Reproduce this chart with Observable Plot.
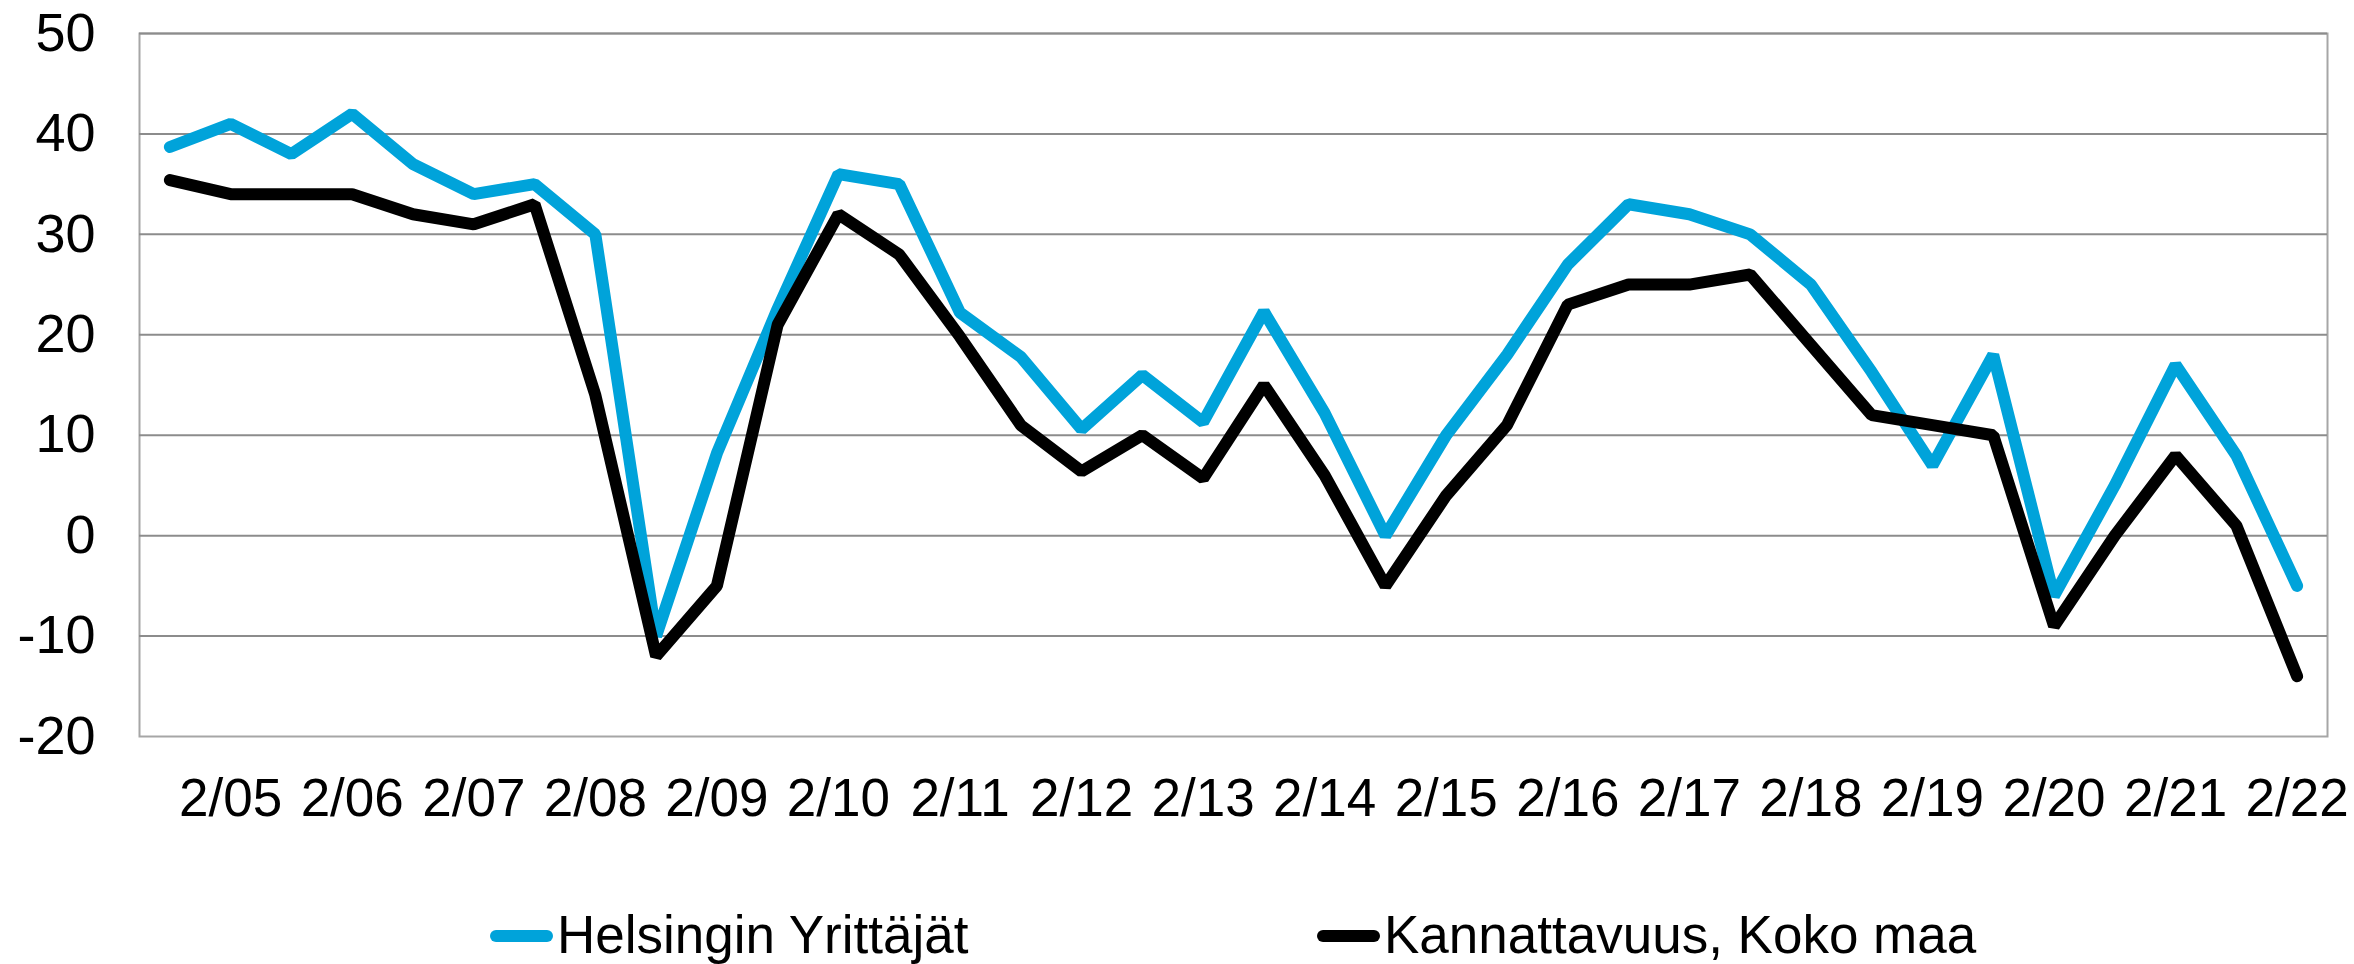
<!DOCTYPE html>
<html>
<head>
<meta charset="utf-8">
<script src="https://cdn.jsdelivr.net/npm/d3@7"></script>
<script src="https://cdn.jsdelivr.net/npm/@observablehq/plot@0.6"></script>
<style>
  html, body { margin: 0; padding: 0; background: #fff; }
  #wrap { position: relative; width: 2354px; height: 964px; font-family: "Liberation Sans", Arial, sans-serif; color: #000; }
  #legend { position: relative; height: 84px; font-size: 53px; }
  .item { position: absolute; top: 25px; line-height: 60px; white-space: nowrap; }
  .sw { position: absolute; top: 50px; height: 12px; border-radius: 6px; }
</style>
</head>
<body>
<div id="wrap">
  <div id="chart"></div>
  <div id="legend"></div>
</div>
<script>
const periods = ["8/04","2/05","8/05","2/06","8/06","2/07","8/07","2/08","8/08","2/09","8/09","2/10","8/10","2/11","8/11","2/12","8/12","2/13","8/13","2/14","8/14","2/15","8/15","2/16","8/16","2/17","8/17","2/18","8/18","2/19","8/19","2/20","8/20","2/21","8/21","2/22"];
const tickLabels = ["2/05","2/06","2/07","2/08","2/09","2/10","2/11","2/12","2/13","2/14","2/15","2/16","2/17","2/18","2/19","2/20","2/21","2/22"];
const yTicks = [-20, -10, 0, 10, 20, 30, 40, 50];
const seriesNames = ["Helsingin Yrittäjät", "Kannattavuus, Koko maa"];
const seriesColors = ["#00A3DA", "#000000"];
const helsinki = [38.7, 41, 38, 42, 37, 34, 35, 30, -10, 8.2, 22.6, 36, 35, 22.2, 17.8, 10.6, 16, 11.3, 22.3, 12.2, 0, 10, 18, 27, 33, 32, 30, 25, 16.3, 7, 18, -6, 5, 17, 8, -5];
const kokoMaa = [35.4, 34, 34, 34, 32, 31, 33, 14, -12, -5, 21, 32, 28, 19.8, 11, 6.4, 10, 5.7, 15, 6, -5, 4, 11, 23, 25, 25, 26, 19, 12, 11, 10, -9, 0, 8, 1, -14];

const chart = Plot.plot({
  width: 2354,
  height: 880,
  marginTop: 33,
  marginBottom: 144,
  marginLeft: 139,
  marginRight: 27,
  style: { fontFamily: "Liberation Sans, Arial, sans-serif", fontSize: "53px", color: "#000", background: "#fff" },
  x: { type: "point", domain: periods, padding: 0.5, align: 0.5, round: false },
  y: { domain: [-20, 50] },
  marks: [
    Plot.frame({ stroke: "#a6a6a6", strokeWidth: 2 }),
    Plot.ruleY(yTicks.filter(d => d > -20), { stroke: "#8c8c8c", strokeWidth: 2 }),
    Plot.axisY(yTicks, { tickSize: 0, tickPadding: 44, fontSize: 54, label: null, tickFormat: d => String(d) }),
    Plot.axisX(tickLabels, { tickSize: 0, tickPadding: 42, fontSize: 53, label: null }),
    Plot.line(helsinki, { x: periods, y: helsinki, stroke: seriesColors[0], strokeWidth: 12, strokeLinecap: "round", strokeLinejoin: "miter" }),
    Plot.line(kokoMaa, { x: periods, y: kokoMaa, stroke: seriesColors[1], strokeWidth: 12, strokeLinecap: "round", strokeLinejoin: "miter" })
  ]
});
document.getElementById("chart").appendChild(chart);

const legend = document.getElementById("legend");
const lefts = [490, 1317];
seriesNames.forEach((name, i) => {
  const sw = document.createElement("span");
  sw.className = "sw";
  sw.style.left = lefts[i] + "px";
  sw.style.width = "63px";
  sw.style.background = seriesColors[i];
  legend.appendChild(sw);
  const t = document.createElement("div");
  t.className = "item";
  t.style.left = (lefts[i] + 67) + "px";
  t.textContent = name;
  legend.appendChild(t);
});
</script>
</body>
</html>
